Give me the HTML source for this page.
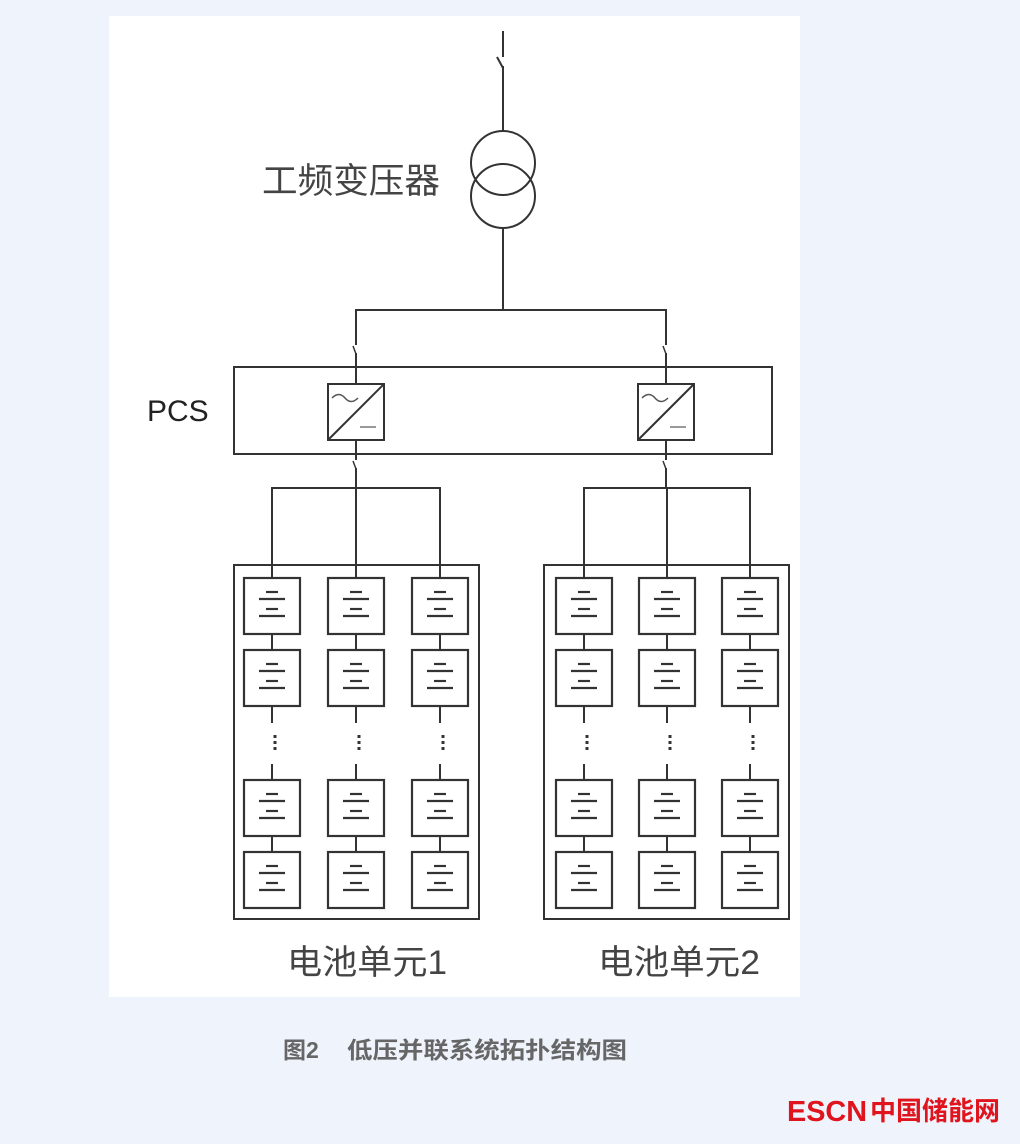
<!DOCTYPE html>
<html><head><meta charset="utf-8"><style>
html,body{margin:0;padding:0;background:#eef3fc;}
svg{display:block}
</style></head><body>
<svg width="1020" height="1144" viewBox="0 0 1020 1144" xmlns="http://www.w3.org/2000/svg">
<defs>
<g id="cell">
<rect x="-28" y="0" width="56" height="56" fill="#fff" stroke="#333" stroke-width="2.2"/>
<line x1="-6" y1="14" x2="6" y2="14" stroke="#333" stroke-width="2.2"/>
<line x1="-13" y1="21" x2="13" y2="21" stroke="#333" stroke-width="2.2"/>
<line x1="-6" y1="31" x2="6" y2="31" stroke="#333" stroke-width="2.2"/>
<line x1="-13" y1="38" x2="13" y2="38" stroke="#333" stroke-width="2.2"/>
</g>
<g id="col">
<line x1="0" y1="634" x2="0" y2="650" stroke="#333" stroke-width="2"/>
<line x1="0" y1="706" x2="0" y2="723" stroke="#333" stroke-width="2"/>
<line x1="0" y1="764" x2="0" y2="780" stroke="#333" stroke-width="2"/>
<line x1="0" y1="836" x2="0" y2="852" stroke="#333" stroke-width="2"/>
<line x1="3" y1="735" x2="3" y2="753" stroke="#333" stroke-width="3" stroke-dasharray="3,3"/>
<use href="#cell" y="578"/>
<use href="#cell" y="650"/>
<use href="#cell" y="780"/>
<use href="#cell" y="852"/>
</g>
<g id="conv">
<rect x="-28" y="0" width="56" height="56" fill="#fff" stroke="#333" stroke-width="2"/>
<line x1="-28" y1="56" x2="28" y2="0" stroke="#333" stroke-width="2"/>
<path d="M-24 14 q7 -7 13 0 t13 0" fill="none" stroke="#555" stroke-width="1.5"/>
<line x1="4" y1="43" x2="20" y2="43" stroke="#999" stroke-width="2"/>
</g>
</defs>
<rect x="109" y="16" width="691" height="981" fill="#fff"/>
<g stroke="#333" stroke-width="2" fill="none">
<line x1="503" y1="31" x2="503" y2="57"/>
<line x1="497" y1="57" x2="503" y2="68"/>
<line x1="503" y1="66" x2="503" y2="131"/>
<circle cx="503" cy="163" r="32"/>
<circle cx="503" cy="196" r="32"/>
<line x1="503" y1="228" x2="503" y2="310"/>
<polyline points="356,367 356,310 666,310 666,367"/>
<rect x="234" y="367" width="538" height="87"/>
<line x1="356" y1="440" x2="356" y2="488"/>
<line x1="666" y1="440" x2="666" y2="488"/>
<line x1="356" y1="367" x2="356" y2="384"/>
<line x1="666" y1="367" x2="666" y2="384"/>
<polyline points="272,578 272,488 440,488 440,578"/>
<line x1="356" y1="488" x2="356" y2="578"/>
<polyline points="584,578 584,488 750,488 750,578"/>
<line x1="667" y1="488" x2="667" y2="578"/>
<rect x="234" y="565" width="245" height="354"/>
<rect x="544" y="565" width="245" height="354"/>
</g>
<g fill="#fff" stroke="none">
<rect x="350" y="345" width="12" height="8"/><rect x="660" y="345" width="12" height="8"/>
<rect x="350" y="460" width="12" height="8"/><rect x="660" y="460" width="12" height="8"/>
</g>
<g stroke="#333" stroke-width="1.5">
<line x1="353" y1="346" x2="356" y2="354"/><line x1="663" y1="346" x2="666" y2="354"/>
<line x1="353" y1="461" x2="356" y2="469"/><line x1="663" y1="461" x2="666" y2="469"/>
</g>
<use href="#conv" x="356" y="384"/>
<use href="#conv" x="666" y="384"/>
<use href="#col" x="272"/><use href="#col" x="356"/><use href="#col" x="440"/>
<use href="#col" x="584"/><use href="#col" x="667"/><use href="#col" x="750"/>
<g font-family="'Liberation Sans','Noto Sans CJK SC',sans-serif" fill="#444">
<text x="262" y="193" font-size="35" textLength="178" lengthAdjust="spacingAndGlyphs">工频变压器</text>
<text x="147" y="421" font-size="30" fill="#222">PCS</text>
<text x="287" y="974" font-size="34" textLength="160" lengthAdjust="spacingAndGlyphs">电池单元1</text>
<text x="598" y="974" font-size="34" textLength="162" lengthAdjust="spacingAndGlyphs">电池单元2</text>
<text x="283" y="1058" font-size="23" font-weight="bold" fill="#666">图2</text>
<text x="347" y="1058" font-size="23" font-weight="bold" fill="#666" textLength="280" lengthAdjust="spacingAndGlyphs">低压并联系统拓扑结构图</text>
<text x="787" y="1121" font-size="29" font-weight="bold" fill="#e0141c" textLength="80" lengthAdjust="spacingAndGlyphs">ESCN</text>
<text x="870" y="1120" font-size="26" font-weight="bold" fill="#e0141c" textLength="130" lengthAdjust="spacingAndGlyphs">中国储能网</text>
</g>
</svg>
</body></html>
